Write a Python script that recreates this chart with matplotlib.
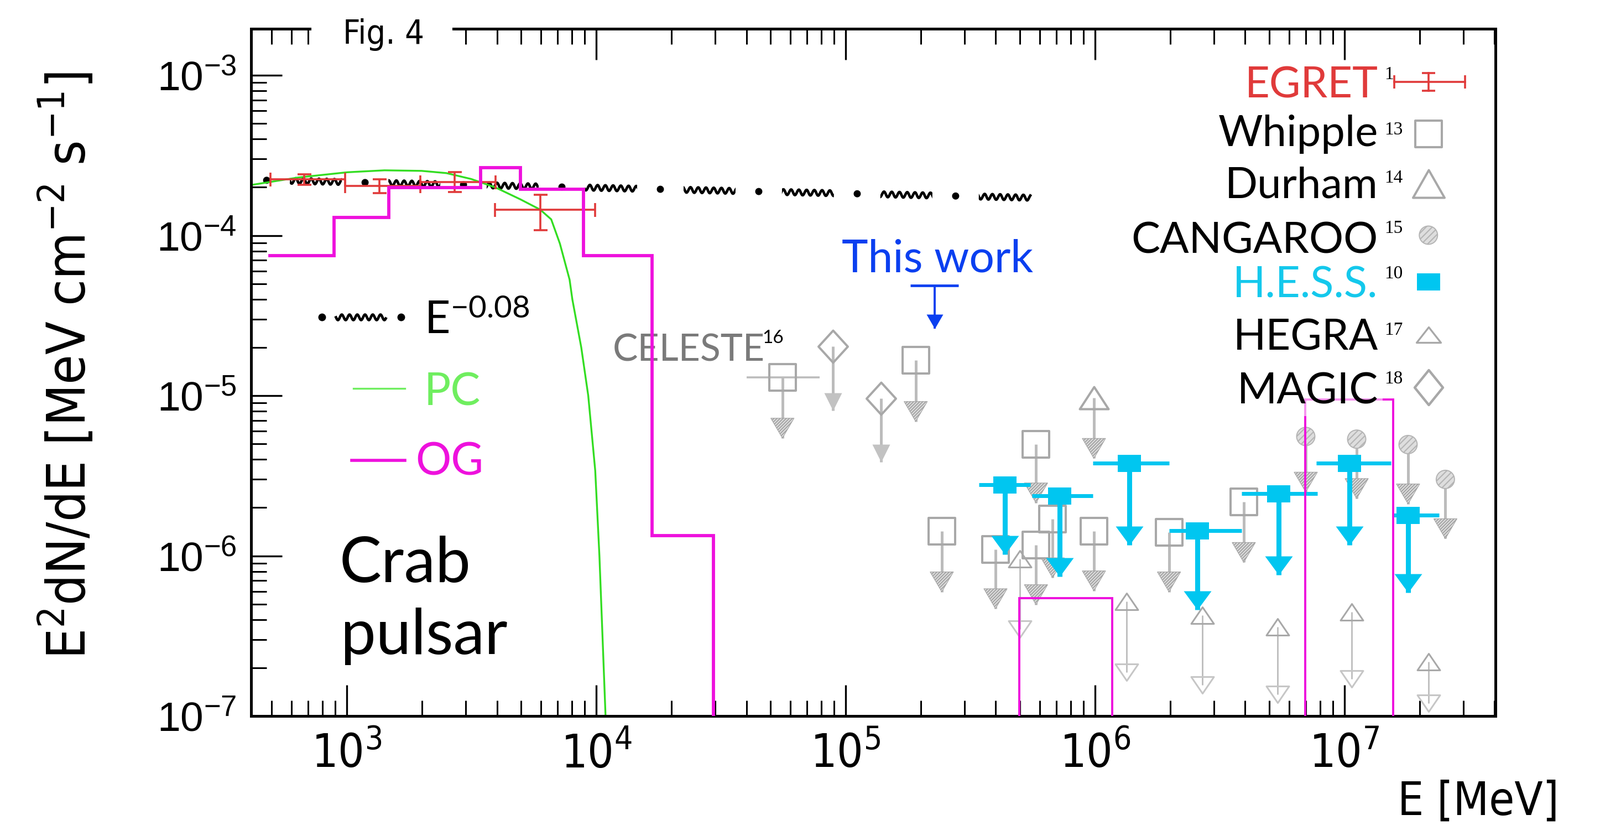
import numpy as np
import matplotlib
matplotlib.use("Agg")
import matplotlib.pyplot as plt
from matplotlib.path import Path
from matplotlib.patches import Rectangle
from matplotlib.ticker import NullFormatter

plt.rcParams["lines.scale_dashes"] = False
plt.rcParams["mathtext.default"] = "regular"
plt.rcParams["hatch.linewidth"] = 1.5
plt.rcParams["hatch.color"] = "#9a9a9a"

PX = 100 / 72.0  # pixels per point at dpi 100

SANS = ["Lato", "DejaVu Sans"]
NARROW = ["Liberation Sans Narrow", "DejaVu Sans"]
WIDE = ["Liberation Sans", "DejaVu Sans"]
SERIF = ["Liberation Serif", "DejaVu Serif"]

MAGENTA = "#ee11dd"
GREEN = "#33dd22"
LIGHT_GREEN = "#6fee5f"
RED = "#e03a3a"
CYAN = "#00c6f0"
BLUE = "#0a3ff0"
GRAY = "#a8a8a8"
GRAY_LINE = "#bcbcbc"

# ---------------- data: E [MeV], E^2 dN/dE [MeV cm^-2 s^-1] ----------------
x_ticks = [1e3, 1e4, 1e5, 1e6, 1e7]
x_tick_labels = [r"$10^{3}$", r"$10^{4}$", r"$10^{5}$", r"$10^{6}$", r"$10^{7}$"]
y_ticks = [1e-7, 1e-6, 1e-5, 1e-4, 1e-3]
y_tick_labels = [r"$10^{-7}$", r"$10^{-6}$", r"$10^{-5}$", r"$10^{-4}$", r"$10^{-3}$"]

# E^-0.08 reference line
pl_E = [477, 5.5e5]
pl_F = [2.21e-4, 1.72e-4]

# PC model
pc_E = [409, 638, 1005, 1416, 1995, 2508, 3155, 3954, 4966, 5960, 6600, 7150,
        7820, 8020, 8710, 9290, 9910, 10300, 10900]
pc_F = [2.06e-4, 2.30e-4, 2.48e-4, 2.55e-4, 2.53e-4, 2.45e-4, 2.25e-4, 1.99e-4,
        1.68e-4, 1.45e-4, 1.26e-4, 8.9e-5, 5.3e-5, 4.0e-5, 2.0e-5, 1.0e-5,
        3.4e-6, 1.0e-6, 1.0e-7]

# OG model (stepped)
og_edges = [492, 889, 1473, 3434, 4966, 8913, 16750, 29500]
og_vals = [7.5e-5, 1.29e-4, 1.99e-4, 2.64e-4, 1.94e-4, 7.5e-5, 1.34e-6]
og_hi_lo = [4.97e5, 6.97e6]
og_hi_hi = [1.17e6, 1.57e7]
og_hi_vals = [5.45e-7, 9.46e-6]

# EGRET
egret_E = [674, 1349, 2712, 5960]
egret_Elo = [494, 985, 1974, 3928]
egret_Ehi = [985, 1974, 3946, 9910]
egret_F = [2.25e-4, 2.03e-4, 2.16e-4, 1.445e-4]
egret_Flo = [2.07e-4, 1.84e-4, 1.87e-4, 1.08e-4]
egret_Fhi = [2.41e-4, 2.25e-4, 2.48e-4, 1.79e-4]

# H.E.S.S. upper limits
hess_E = [4.35e5, 7.2e5, 1.37e6, 2.57e6, 5.46e6, 1.05e7, 1.80e7]
hess_Elo = [3.42e5, 5.6e5, 9.8e5, 1.98e6, 3.88e6, 7.7e6, 1.58e7]
hess_Ehi = [5.5e5, 9.8e5, 1.98e6, 3.88e6, 7.8e6, 1.54e7, 2.40e7]
hess_F = [2.77e-6, 2.37e-6, 3.78e-6, 1.44e-6, 2.45e-6, 3.80e-6, 1.80e-6]
hess_tip = [1.02e-6, 7.4e-7, 1.17e-6, 4.6e-7, 7.6e-7, 1.17e-6, 5.9e-7]

# this work
tw_E = [2.28e5]
tw_Elo = [1.82e5]
tw_Ehi = [2.83e5]
tw_F = [4.86e-5]
tw_tip = [2.62e-5]

# Whipple
whipple_E = [1.91e5, 2.43e5, 3.99e5, 5.8e5, 5.8e5, 6.76e5, 9.9e5, 1.98e6, 3.95e6]
whipple_F = [1.66e-5, 1.42e-6, 1.10e-6, 4.95e-6, 1.17e-6, 1.70e-6, 1.42e-6, 1.40e-6, 2.17e-6]
whipple_tip = [6.9e-6, 5.96e-7, 4.68e-7, 2.14e-6, 4.96e-7, 7.3e-7, 6.05e-7, 5.96e-7, 9.1e-7]

# CELESTE
celeste_E = [5.58e4]
celeste_Elo = [4.0e4]
celeste_Ehi = [7.85e4]
celeste_F = [1.30e-5]
celeste_tip = [5.43e-6]

# Durham
durham_E = [9.9e5]
durham_F = [9.7e-6]
durham_tip = [4.06e-6]

# CANGAROO
cangaroo_E = [7.0e6, 1.12e7, 1.80e7, 2.54e7]
cangaroo_F = [5.56e-6, 5.35e-6, 4.95e-6, 3.0e-6]
cangaroo_tip = [2.5e-6, 2.28e-6, 2.11e-6, 1.28e-6]

# HEGRA
hegra_E = [5.0e5, 1.34e6, 2.69e6, 5.39e6, 1.07e7, 2.18e7]
hegra_hi = [9.57e-7, 5.2e-7, 4.27e-7, 3.6e-7, 4.46e-7, 2.18e-7]
hegra_lo = [3.49e-7, 1.87e-7, 1.56e-7, 1.36e-7, 1.71e-7, 1.2e-7]

# MAGIC
magic_E = [8.91e4, 1.39e5]
magic_F = [2.03e-5, 9.6e-6]
magic_tip = [8.1e-6, 3.85e-6]


# ---------------- marker helpers (sizes in pixels) ----------------
def marker(verts):
    verts = list(verts) + [verts[0]]
    codes = [Path.MOVETO] + [Path.LINETO] * (len(verts) - 2) + [Path.CLOSEPOLY]
    size = 2 * np.max(np.abs(verts)) / PX
    return Path(verts, codes), size


def tri_tip(w, h):  # downward triangle whose tip sits on the point
    return marker([(-w / 2, h), (w / 2, h), (0, 0)])


def tri_up(w, h):
    return marker([(-w / 2, -h / 2), (w / 2, -h / 2), (0, h / 2)])


def tri_down(w, h):
    return marker([(-w / 2, h / 2), (w / 2, h / 2), (0, -h / 2)])


def rect(w, h):
    return marker([(-w / 2, -h / 2), (w / 2, -h / 2), (w / 2, h / 2), (-w / 2, h / 2)])


def diamond(w, h):
    return marker([(0, h / 2), (w / 2, 0), (0, -h / 2), (-w / 2, 0)])


fig = plt.figure(figsize=(28.93, 14.91), dpi=100)
ax = fig.add_axes([0.1569, 0.1321, 0.7777, 0.8330])
ax.set_xscale("log")
ax.set_yscale("log")
ax.set_xlim(413, 4.03e7)
ax.set_ylim(1e-7, 1.95e-3)
ymin = ax.get_ylim()[0]

# E^-0.08 line: zigzag pieces separated by dots
period = 178 / PX
zig, = ax.plot(pl_E, pl_F, color="black", lw=3.4, zorder=1.0)
zig.set_sketch_params(scale=5, length=14, randomness=1)
ax.plot(pl_E, pl_F, color="white", lw=22 / PX, dash_capstyle="butt",
        linestyle=(42 / PX, (84 / PX, period - 84 / PX)), zorder=1.1)
ax.plot(pl_E, pl_F, color="black", lw=13 / PX, dash_capstyle="round",
        linestyle=(0, (0.01, period)), zorder=1.2)

# PC model
ax.plot(pc_E, pc_F, color=GREEN, lw=2.4, zorder=2)

# EGRET
eE, eF = np.array(egret_E), np.array(egret_F)
ax.errorbar(eE, eF, xerr=[eE - egret_Elo, np.array(egret_Ehi) - eE],
            yerr=[eF - egret_Flo, np.array(egret_Fhi) - eF],
            fmt="none", ecolor=RED, elinewidth=2.6, capsize=9, capthick=2.6, zorder=3)

# gray upper limits
head_p, head_s = tri_tip(42, 36)
mhead_p, mhead_s = tri_tip(32, 32)


def gray_ul(E, F, tip, mpath, msize, hatched_head=True, fill=None, hatch=None):
    ax.vlines(E, tip, F, color=GRAY_LINE, lw=3.6, zorder=2.2)
    if hatched_head:
        ax.scatter(E, tip, marker=head_p, s=head_s ** 2, facecolor="#e2e2e2",
                   edgecolor="#a4a4a4", linewidths=0.8, hatch="/" * 6, zorder=2.4)
    else:
        ax.scatter(E, tip, marker=mhead_p, s=mhead_s ** 2, color="#c2c2c2",
                   linewidths=0, zorder=2.4)
    if hatch:
        ax.scatter(E, F, marker=mpath, s=msize ** 2, facecolor=fill, edgecolor="#b4b4b4",
                   linewidths=1.4, hatch=hatch, zorder=2.6)
    else:
        ax.plot(E, F, ls="none", marker=mpath, ms=msize, mfc="none", mec=GRAY,
                mew=2.9, zorder=2.6)


sq_p, sq_s = rect(47, 47)
ax.hlines(celeste_F, celeste_Elo, celeste_Ehi, color=GRAY_LINE, lw=2.6, zorder=2.2)
gray_ul(celeste_E, celeste_F, celeste_tip, sq_p, sq_s)
gray_ul(whipple_E, whipple_F, whipple_tip, sq_p, sq_s)
dm_p, dm_s = diamond(53, 58)
gray_ul(magic_E, magic_F, magic_tip, dm_p, dm_s, hatched_head=False)
du_p, du_s = tri_up(52, 40)
gray_ul(durham_E, durham_F, durham_tip, du_p, du_s)
gray_ul(cangaroo_E, cangaroo_F, cangaroo_tip, "o", 33 / PX, fill="#dedede", hatch="///")

hu_p, hu_s = tri_up(41, 30)
hd_p, hd_s = tri_down(41, 30)
ax.vlines(hegra_E, hegra_lo, hegra_hi, color=GRAY_LINE, lw=2.0, zorder=2.2)
ax.plot(hegra_E, hegra_hi, ls="none", marker=hu_p, ms=hu_s, mfc="none", mec=GRAY,
        mew=2.2, zorder=2.6)
ax.plot(hegra_E, hegra_lo, ls="none", marker=hd_p, ms=hd_s, mfc="none", mec="#c6c6c6",
        mew=2.2, zorder=2.6)

# H.E.S.S.
hE, hF = np.array(hess_E), np.array(hess_F)
ax.errorbar(hE, hF, xerr=[hE - hess_Elo, np.array(hess_Ehi) - hE], fmt="none",
            ecolor=CYAN, elinewidth=5.0, capsize=0, zorder=4)
ax.vlines(hE, hess_tip, hF, color=CYAN, lw=6.5, zorder=4)
hh_p, hh_s = tri_tip(50, 34)
ax.scatter(hE, hess_tip, marker=hh_p, s=hh_s ** 2, color=CYAN, linewidths=0, zorder=4)
hs_p, hs_s = rect(42, 31)
ax.plot(hE, hF, ls="none", marker=hs_p, ms=hs_s, color=CYAN, mew=0, zorder=4.1)

# this work
ax.hlines(tw_F, tw_Elo, tw_Ehi, color=BLUE, lw=3.4, zorder=4)
ax.vlines(tw_E, tw_tip, tw_F, color=BLUE, lw=2.8, zorder=4)
tw_p, tw_s = tri_tip(30, 26)
ax.scatter(tw_E, tw_tip, marker=tw_p, s=tw_s ** 2, color=BLUE, linewidths=0, zorder=4)

# OG model
ax.plot(np.repeat(og_edges, 2)[1:], np.append(np.repeat(og_vals, 2), ymin),
        color=MAGENTA, lw=4.2, solid_joinstyle="miter", zorder=5)
for lo, hi, v in zip(og_hi_lo, og_hi_hi, og_hi_vals):
    ax.plot([lo, lo, hi, hi], [ymin, v, v, ymin], color=MAGENTA, lw=2.8,
            solid_joinstyle="miter", zorder=5)

# ---------------- axes styling ----------------
ax.set_xticks(x_ticks, x_tick_labels, fontsize=60, fontfamily=NARROW, fontstretch="condensed")
ax.set_yticks(y_ticks, y_tick_labels, fontsize=54, fontfamily=WIDE)
ax.xaxis.set_minor_formatter(NullFormatter())
ax.yaxis.set_minor_formatter(NullFormatter())
ax.tick_params(which="both", direction="in", top=True, right=False)
ax.tick_params(which="major", length=40, width=2.4)
ax.tick_params(which="minor", length=20, width=2.2)
ax.tick_params(axis="x", which="major", pad=21)
ax.tick_params(axis="y", which="major", pad=19)
for sp in ax.spines.values():
    sp.set_linewidth(3.6)

ax.set_ylabel(r"E$^{2}$dN/dE [MeV cm$^{-2}$ s$^{-1}$]", fontsize=70,
              fontfamily=NARROW, fontstretch="condensed")
ax.yaxis.set_label_coords(-0.124, 0.51)
fig.text(0.9744, 0.012, "E [MeV]", fontsize=60, fontfamily=NARROW,
         fontstretch="condensed", ha="right", va="baseline")

fig.add_artist(Rectangle((0.1946, 0.925), 0.0881, 0.075, transform=fig.transFigure,
                         facecolor="white", edgecolor="none", zorder=5))
fig.text(0.2143, 0.9470, "Fig. 4", fontsize=44, fontfamily=NARROW,
         fontstretch="condensed", ha="left", va="baseline", zorder=6)

# ---------------- annotations ----------------
T = ax.transAxes
ax.text(0.0711, 0.1948, "Crab", fontsize=82, fontfamily=SANS, transform=T, va="baseline")
ax.text(0.0720, 0.0902, "pulsar", fontsize=82, fontfamily=SANS, transform=T, va="baseline")
ax.text(0.2907, 0.5169, "CELESTE", fontsize=49, fontfamily=SANS, color="#7a7a7a",
        transform=T, va="baseline")
ax.text(0.4107, 0.5427, "16", fontsize=24, fontfamily=SANS, transform=T, va="baseline")
ax.text(0.5516, 0.6465, "This work", fontsize=58, fontfamily=SANS, color=BLUE,
        transform=T, ha="center", va="baseline")

# left legend
zl, = ax.plot([0.0680, 0.1080], [0.5805, 0.5805], color="black", lw=3.4, transform=T)
zl.set_sketch_params(scale=5, length=14, randomness=1)
ax.plot([0.0569, 0.1204], [0.5805, 0.5805], ls="none", marker="o", ms=9, color="black",
        transform=T)
ax.text(0.1391, 0.5564, r"E$^{-0.08}$", fontsize=58, fontfamily=SANS, transform=T,
        va="baseline")
ax.plot([0.0822, 0.1236], [0.4767, 0.4767], color=LIGHT_GREEN, lw=2.4, transform=T)
ax.text(0.1391, 0.4525, "PC", fontsize=58, fontfamily=SANS, color=LIGHT_GREEN,
        transform=T, va="baseline")
ax.plot([0.0809, 0.1236], [0.3720, 0.3720], color=MAGENTA, lw=4, transform=T)
ax.text(0.1320, 0.3510, "OG", fontsize=58, fontfamily=SANS, color=MAGENTA,
        transform=T, va="baseline")

# right legend
rows = [("EGRET", RED, "1", 0.8994, 0.9267, 0.9227),
        ("Whipple", "black", "13", 0.8293, 0.8462, 0.8470),
        ("Durham", "black", "14", 0.7544, 0.7762, 0.7746),
        ("CANGAROO", "black", "15", 0.6739, 0.7029, 0.6997),
        ("H.E.S.S.", "#14c8ec", "10", 0.6095, 0.6369, 0.6320),
        ("HEGRA", "black", "17", 0.5330, 0.5548, 0.5548),
        ("MAGIC", "black", "18", 0.4549, 0.4839, 0.4783)]
sym_y = {}
for name, col, ref, yb, ys, ym in rows:
    kw = {}
    if name == "MAGIC":
        kw["bbox"] = dict(facecolor="white", alpha=0.55, edgecolor="none", pad=6)
    ax.text(0.9058, yb, name, fontsize=56, fontfamily=SANS, color=col, transform=T,
            ha="right", va="baseline", zorder=6, **kw)
    ax.text(0.9110, ys, ref, fontsize=24, fontfamily=SERIF, transform=T,
            ha="left", va="baseline", zorder=6)
    sym_y[name] = ym

lx = 0.9462
y0 = sym_y["EGRET"]
ax.plot([0.9187, 0.9756], [y0, y0], color=RED, lw=2.6, transform=T, clip_on=False)
ax.plot([0.9187, 0.9756], [y0, y0], ls="none", marker="|", ms=17, mew=2.6, color=RED,
        transform=T, clip_on=False)
ax.plot([lx, lx], [y0 - 0.0129, y0 + 0.0129], color=RED, lw=2.6, transform=T, clip_on=False)
ax.plot([lx, lx], [y0 - 0.0129, y0 + 0.0129], ls="none", marker="_", ms=17, mew=2.6,
        color=RED, transform=T, clip_on=False)

lsq_p, lsq_s = rect(48, 48)
ax.plot([lx], [sym_y["Whipple"]], marker=lsq_p, ms=lsq_s, mfc="none", mec=GRAY, mew=2.9,
        transform=T, clip_on=False)
ldu_p, ldu_s = tri_up(57, 50)
ax.plot([lx], [sym_y["Durham"]], marker=ldu_p, ms=ldu_s, mfc="none", mec=GRAY, mew=2.9,
        transform=T, clip_on=False)
ax.scatter([lx], [sym_y["CANGAROO"]], marker="o", s=(33 / PX) ** 2, facecolor="#dedede",
           edgecolor="#b4b4b4", linewidths=1.4, hatch="///", transform=T, clip_on=False)
ax.plot([lx], [sym_y["H.E.S.S."]], marker=hs_p, ms=hs_s, color=CYAN, mew=0,
        transform=T, clip_on=False)
lhu_p, lhu_s = tri_up(44, 28)
ax.plot([lx], [sym_y["HEGRA"]], marker=lhu_p, ms=lhu_s, mfc="none", mec=GRAY, mew=2.4,
        transform=T, clip_on=False)
ldm_p, ldm_s = diamond(51, 63)
ax.plot([lx], [sym_y["MAGIC"]], marker=ldm_p, ms=ldm_s, mfc="none", mec=GRAY, mew=3.2,
        transform=T, clip_on=False)

fig.savefig("out.png", dpi=100, facecolor="white")
